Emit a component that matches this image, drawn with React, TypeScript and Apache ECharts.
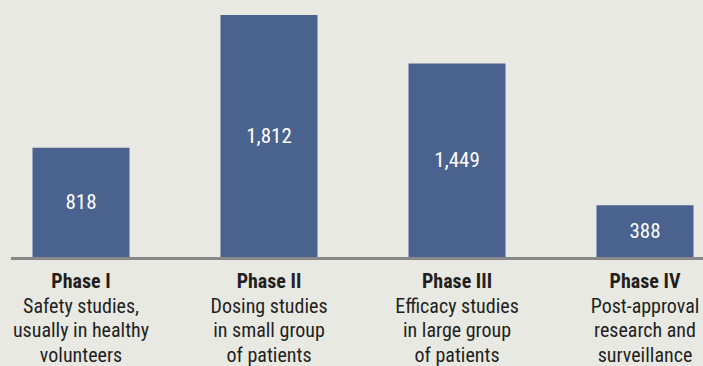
import React, { useEffect, useRef } from "react";
import * as echarts from "echarts";

const phases = ["Phase I", "Phase II", "Phase III", "Phase IV"];
const descriptions = [
  ["Safety studies,", "usually in healthy", "volunteers"],
  ["Dosing studies", "in small group", "of patients"],
  ["Efficacy studies", "in large group", "of patients"],
  ["Post-approval", "research and", "surveillance"],
];
const trials = [818, 1812, 1449, 388];

const FONT = '"Liberation Sans Narrow", "Roboto Condensed", "Arial Narrow", Roboto, sans-serif';

export default function App() {
  const ref = useRef<HTMLDivElement>(null);
  useEffect(() => {
    if (!ref.current) return;
    const chart = echarts.init(ref.current, null, { renderer: "svg" });
    chart.setOption({
      animation: false,
      backgroundColor: "#e9e9e4",
      textStyle: { fontFamily: FONT },
      grid: {
        left: -13,
        width: 752,
        top: 15,
        bottom: 109,
        containLabel: false,
        outerBoundsMode: "none",
      },
      xAxis: {
        type: "category",
        data: phases,
        axisLine: { show: false },
        axisTick: { show: false },
        axisLabel: {
          interval: 0,
          margin: 12,
          hideOverlap: false,
          formatter: (v: string, i: number) =>
            [`{b|${v}}`, ...descriptions[i].map((d) => `{n|${d}}`)].join("\n"),
          rich: {
            b: { fontFamily: FONT, fontSize: 20, fontWeight: "bold", color: "#231f20", lineHeight: 24.5 },
            n: { fontFamily: FONT, fontSize: 20, color: "#231f20", lineHeight: 24.5 },
          },
        },
      },
      yAxis: {
        type: "value",
        min: 0,
        max: 1812,
        show: false,
        splitLine: { show: false },
      },
      series: [
        {
          type: "bar",
          data: trials,
          barWidth: 97,
          itemStyle: { color: "#4a628e" },
          label: {
            show: true,
            position: "inside",
            color: "#ffffff",
            fontFamily: FONT,
            fontSize: 21,
            formatter: (p: any) => Number(p.value).toLocaleString("en-US"),
          },
        },
      ],
      graphic: [
        {
          type: "line",
          shape: { x1: 11, y1: 258.5, x2: 703, y2: 258.5 },
          style: { stroke: "#888888", lineWidth: 3 },
          z: 10,
        },
      ],
    });
    return () => chart.dispose();
  }, []);
  return (
    <div
      ref={ref}
      style={{ position: "fixed", left: 0, top: 0, width: 703, height: 366 }}
    />
  );
}
